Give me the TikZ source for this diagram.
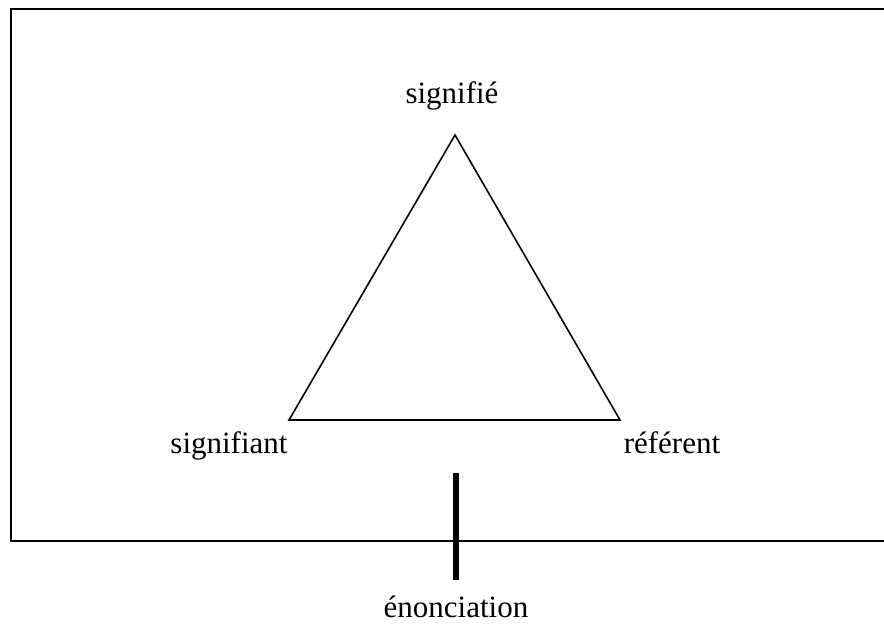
\documentclass[tikz,border=0pt]{standalone}
\usepackage{fontspec}
\setmainfont{Liberation Serif}
\usetikzlibrary{positioning,calc}

\begin{document}
\begin{tikzpicture}[x=1pt, y=-1pt,
  lbl/.style={anchor=base, inner sep=0pt, font=\fontsize{31}{37}\selectfont}]
  \useasboundingbox (0,0) rectangle (884,626);
  % open frame
  \draw[line width=1.6pt] (884,9) -- (11,9) -- (11,541) -- (884,541);
  % triangle
  \coordinate (top) at (455,135);
  \coordinate (left) at (289,420);
  \coordinate (right) at (620,420);
  \draw[line width=1.6pt, line join=miter] (top) -- (left) -- (right) -- cycle;
  \node[lbl] (sfe) at (452,103) {signifié};
  \node[lbl] (sft) at (229,453) {signifiant};
  \node[lbl] (ref) at (672,453) {référent};
  % enunciation bar
  \coordinate (bt) at (456,473);
  \coordinate (bb) at (456,580);
  \draw[line width=6pt] (bt) -- (bb);
  \node[lbl] (enc) at (456,617) {énonciation};
\end{tikzpicture}
\end{document}
